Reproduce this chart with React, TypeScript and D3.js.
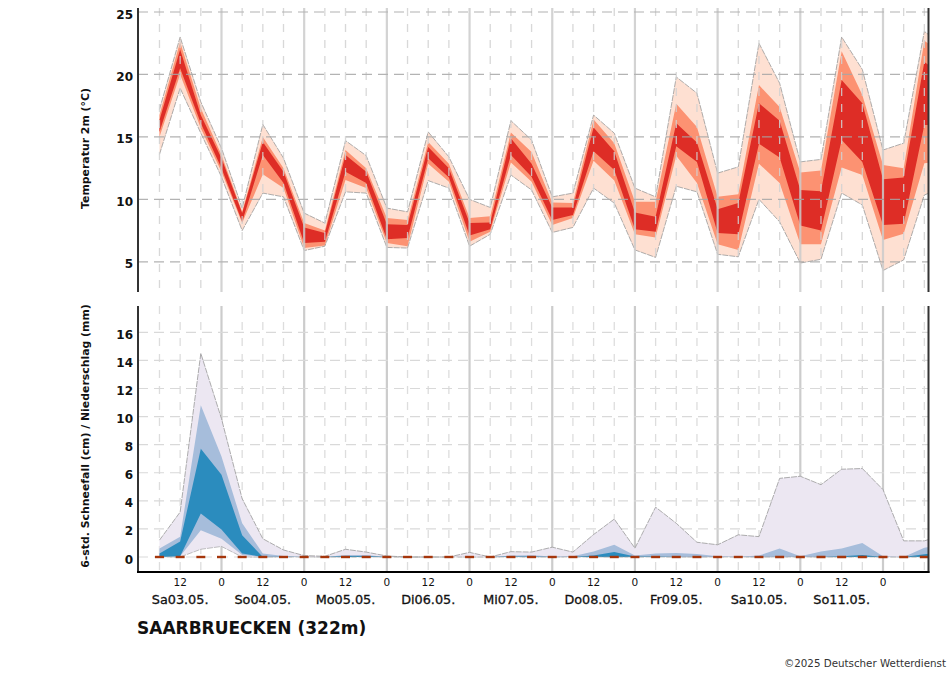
import * as d3 from "d3";

const hours = d3.range(39).map((i) => 6 + i * 6);

// temperature plume, 2m (deg C) - percentile bands, last value is cut off by the frame
const tempOuterHigh = [17.2, 23.0, 17.8, 14.1, 9.3, 16.0, 13.3, 8.9, 8.1, 14.7, 13.5, 9.3, 9.0, 15.4, 13.4, 10.0, 9.35, 16.3, 14.75, 10.2, 10.5, 16.75, 15.3, 10.9, 10.2, 19.8, 18.5, 12.1, 12.6, 22.5, 19.3, 13.0, 13.2, 23.0, 20.4, 13.95, 14.5, 23.45, 22.2];
const tempMidHigh = [16.75, 22.6, 17.3, 13.55, 9.0, 15.0, 12.5, 8.1, 7.5, 13.95, 12.5, 8.5, 8.35, 14.6, 12.85, 8.5, 8.65, 15.35, 13.8, 9.75, 9.7, 16.4, 14.5, 9.8, 9.8, 17.65, 15.8, 10.2, 10.4, 19.15, 17.4, 12.15, 12.3, 21.85, 18.35, 12.75, 12.5, 22.7, 21.5];
const tempInnerHigh = [16.35, 22.0, 16.75, 13.3, 8.9, 14.6, 12.2, 7.75, 7.3, 13.55, 12.2, 8.0, 7.95, 14.2, 12.5, 8.1, 8.15, 14.9, 12.85, 9.35, 9.35, 15.75, 13.85, 8.95, 8.6, 16.1, 14.55, 9.2, 9.7, 17.7, 16.3, 10.75, 10.65, 19.55, 17.7, 11.6, 11.75, 21.0, 19.8];
const tempInnerLow = [15.4, 20.5, 16.1, 12.5, 8.2, 13.55, 11.3, 6.5, 6.6, 12.2, 11.3, 6.8, 6.9, 13.3, 11.75, 7.1, 7.6, 13.55, 11.8, 8.35, 8.75, 13.85, 12.35, 7.6, 7.4, 14.25, 13.0, 7.3, 7.2, 14.45, 13.35, 7.9, 7.5, 14.75, 13.0, 7.95, 8.05, 15.95, 16.0];
const tempMidLow = [15.0, 20.0, 15.7, 12.2, 8.1, 12.0, 10.9, 6.1, 6.3, 11.55, 10.9, 6.5, 6.25, 12.85, 11.4, 6.6, 7.4, 12.95, 11.4, 7.95, 8.5, 13.1, 11.5, 7.2, 6.95, 13.5, 11.3, 6.4, 5.95, 12.85, 11.3, 6.4, 6.4, 12.55, 11.95, 6.75, 7.25, 12.9, 13.0];
const tempOuterLow = [13.6, 18.9, 15.3, 11.8, 7.5, 10.5, 10.2, 5.9, 6.25, 10.6, 10.5, 6.15, 6.1, 11.5, 10.9, 6.25, 7.2, 11.95, 10.75, 7.35, 7.75, 10.9, 9.7, 5.95, 5.35, 11.05, 10.6, 5.6, 5.4, 10.0, 8.2, 4.9, 5.2, 10.5, 9.55, 4.3, 5.15, 10.35, 11.0];

// 6h precipitation plume (mm)
const rainOuterHigh = [1.2, 3.2, 14.5, 9.85, 4.15, 1.3, 0.5, 0.1, 0.05, 0.55, 0.35, 0.07, 0, 0, 0, 0.33, 0, 0.38, 0.35, 0.7, 0.35, 1.6, 2.7, 0.63, 3.55, 2.4, 1.05, 0.87, 1.58, 1.45, 5.6, 5.75, 5.15, 6.25, 6.3, 4.8, 1.15, 1.15, 1.6];
const rainMidHigh = [0.6, 1.45, 10.8, 7.15, 2.4, 0.25, 0.07, 0, 0, 0.15, 0.15, 0, 0, 0, 0, 0, 0, 0.1, 0.12, 0.03, 0.05, 0.4, 0.87, 0.1, 0.25, 0.28, 0.22, 0.05, 0.02, 0.1, 0.6, 0.05, 0.4, 0.6, 1.0, 0.05, 0, 0.65, 0.9];
const rainInnerHigh = [0.25, 1.1, 7.7, 5.85, 1.55, 0, 0.02, 0, 0, 0.07, 0.07, 0, 0, 0, 0, 0, 0, 0.03, 0.03, 0, 0, 0.1, 0.35, 0.03, 0.03, 0, 0, 0, 0, 0, 0, 0, 0, 0.05, 0.15, 0, 0, 0.2, 0.3];
const rainInnerLow = [0, 0.05, 3.1, 1.95, 0.25, 0, 0, 0, 0, 0, 0, 0, 0, 0, 0, 0, 0, 0, 0, 0, 0, 0, 0, 0, 0, 0, 0, 0, 0, 0, 0, 0, 0, 0, 0, 0, 0, 0, 0];
const rainMidLow = [0, 0.05, 1.9, 1.3, 0.15, 0, 0, 0, 0, 0, 0, 0, 0, 0, 0, 0, 0, 0, 0, 0, 0, 0, 0, 0, 0, 0, 0, 0, 0, 0, 0, 0, 0, 0, 0, 0, 0, 0, 0];
const rainOuterLow = [0, 0, 0.55, 0.75, 0, 0, 0, 0, 0, 0, 0, 0, 0, 0, 0, 0, 0, 0, 0, 0, 0, 0, 0, 0, 0, 0, 0, 0, 0, 0, 0, 0, 0, 0, 0, 0, 0, 0, 0];
const snowfall = hours.map(() => 0);

const tempTicks = [5, 10, 15, 20, 25];
const rainTicks = [0, 2, 4, 6, 8, 10, 12, 14, 16];
const dayLabels = ["Sa03.05.", "So04.05.", "Mo05.05.", "Di06.05.", "Mi07.05.", "Do08.05.", "Fr09.05.", "Sa10.05.", "So11.05."];

const font = "'DejaVu Sans', sans-serif";
const left = 138;
const right = 928.5;
const top1 = 8;
const bottom1 = 292;
const top2 = 306;
const bottom2 = 572;

const x = d3.scaleLinear().domain([0, 216]).range([138.8, 883]);
const yTemp = d3.scaleLinear().domain([5, 25]).range([261.8, 12]);
const yRain = d3.scaleLinear().domain([0, 16]).range([557, 332.3]);

const hourTicks = d3.range(6, 234, 6);
const midnights = hourTicks.filter((h) => h % 24 === 0);
const noons = hourTicks.filter((h) => h % 24 === 12 && h < 228);

function band(hi: number[], lo: number[], y: d3.ScaleLinear<number, number>) {
  return d3.area<number>()
    .x((h) => x(h))
    .y0((_, i) => y(lo[i]))
    .y1((_, i) => y(hi[i]))(hours) ?? "";
}

function edge(v: number[], y: d3.ScaleLinear<number, number>) {
  return d3.line<number>()
    .x((h) => x(h))
    .y((_, i) => y(v[i]))(hours) ?? "";
}

function Grid({ y0, y1, ticks, y, hColor, vColor }: { y0: number; y1: number; ticks: number[]; y: d3.ScaleLinear<number, number>; hColor: string; vColor: string }) {
  return (
    <g fill="none">
      {hourTicks.filter((h) => h % 24 !== 0).map((h) => (
        <line key={h} x1={x(h)} x2={x(h)} y1={y0} y2={y1} stroke={vColor} strokeWidth={1.3} strokeDasharray="8 8" />
      ))}
      {midnights.map((h) => (
        <line key={h} x1={x(h)} x2={x(h)} y1={y0} y2={y1} stroke="#cccccc" strokeWidth={2.2} />
      ))}
      {ticks.map((t) => (
        <line key={t} x1={left} x2={right} y1={y(t)} y2={y(t)} stroke={hColor} strokeWidth={1.2} strokeDasharray="10 6" />
      ))}
    </g>
  );
}

export default function App() {
  return (
    <svg width={950} height={680} style={{ position: "absolute", left: 0, top: 0, fontFamily: font }}>
      <defs>
        <clipPath id="frame">
          <rect x={left} y={top1} width={right - left} height={bottom2 - top1} />
        </clipPath>
      </defs>

      {/* precipitation panel, grid sits under the bands */}
      <Grid y0={top2} y1={bottom2} ticks={rainTicks} y={yRain} hColor="#d9d9d9" vColor="#dddddd" />
      <g clipPath="url(#frame)">
        <path d={band(rainOuterHigh, rainOuterLow, yRain)} fill="#ece7f2" />
        <path d={band(rainMidHigh, rainMidLow, yRain)} fill="#a6bddb" />
        <path d={band(rainInnerHigh, rainInnerLow, yRain)} fill="#2b8cbe" />
        <path d={edge(rainOuterHigh, yRain)} fill="none" stroke="#999999" strokeWidth={0.8} strokeDasharray="6 1" />
        <path d={edge(rainOuterLow, yRain)} fill="none" stroke="#999999" strokeWidth={0.6} strokeDasharray="6 1" />
        {hours.map((h, i) => (
          <line key={h} x1={x(h) - 4.5} x2={x(h) + 4.5} y1={yRain(snowfall[i])} y2={yRain(snowfall[i])} stroke="#a5360c" strokeWidth={2.4} />
        ))}
      </g>

      {/* temperature panel, grid sits over the bands */}
      <g clipPath="url(#frame)">
        <path d={band(tempOuterHigh, tempOuterLow, yTemp)} fill="#fee0d2" />
        <path d={band(tempMidHigh, tempMidLow, yTemp)} fill="#fc9272" />
        <path d={band(tempInnerHigh, tempInnerLow, yTemp)} fill="#de2d26" />
        <path d={edge(tempOuterHigh, yTemp)} fill="none" stroke="#999999" strokeWidth={0.8} strokeDasharray="6 1" />
        <path d={edge(tempOuterLow, yTemp)} fill="none" stroke="#999999" strokeWidth={0.8} strokeDasharray="6 1" />
      </g>
      <g opacity={0.85}>
        <Grid y0={top1} y1={bottom1} ticks={tempTicks} y={yTemp} hColor="#a6a6a6" vColor="#d2d2d2" />
      </g>

      {/* frame */}
      <g stroke="#333333" strokeWidth={2}>
        <line x1={left} x2={left} y1={top1} y2={bottom1} />
        <line x1={right} x2={right} y1={top1} y2={bottom1} />
        <line x1={left} x2={left} y1={top2} y2={bottom2 + 1} />
        <line x1={right} x2={right} y1={top2} y2={bottom2 + 1} />
      </g>
      <line x1={left - 1} x2={right + 1} y1={bottom2} y2={bottom2} stroke="#000000" strokeWidth={2} />

      {/* y ticks */}
      <g fontSize={12} fontWeight="bold" textAnchor="end" fill="#111111">
        {tempTicks.map((t) => (
          <text key={t} x={133} y={yTemp(t) + 6.5}>{t}</text>
        ))}
        {rainTicks.map((t) => (
          <text key={t} x={133} y={yRain(t) + 6.5}>{t}</text>
        ))}
      </g>

      <g fontSize={10.9} fontWeight="bold" textAnchor="middle" fill="#111111">
        <text transform="translate(89,148.5) rotate(-90)">Temperatur 2m (°C)</text>
        <text transform="translate(89,436) rotate(-90)">6-std. Schneefall (cm) / Niederschlag (mm)</text>
      </g>

      {/* x ticks */}
      <g fontSize={10.5} textAnchor="middle" fill="#111111">
        {[...noons, ...midnights].map((h) => (
          <text key={h} x={x(h)} y={585.5}>{h % 24}</text>
        ))}
      </g>
      <g fontSize={12.8} textAnchor="middle" fill="#111111" stroke="#111111" strokeWidth={0.3}>
        {dayLabels.map((d, i) => (
          <text key={i} x={x(12 + i * 24)} y={604}>{d}</text>
        ))}
      </g>

      <text x={137} y={634} fontSize={17} fontWeight="bold" fill="#111111">SAARBRUECKEN (322m)</text>
      <text x={946} y={667} fontSize={10.3} textAnchor="end" fill="#333333">©2025 Deutscher Wetterdienst</text>
    </svg>
  );
}
